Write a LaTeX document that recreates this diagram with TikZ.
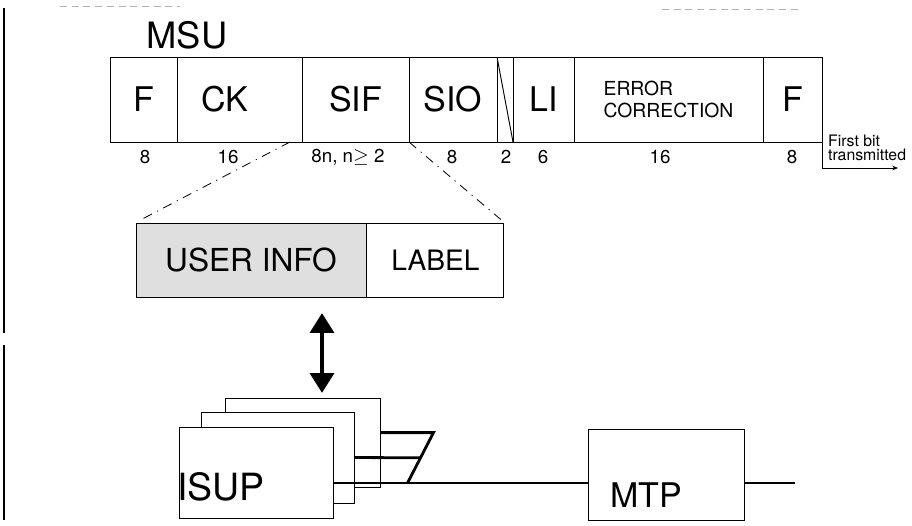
\documentclass[tikz,border=0pt]{standalone}
\usepackage{fontspec}
\setmainfont{TeX Gyre Heros}
\usetikzlibrary{arrows.meta,calc,positioning}
\newlength\pxl
\setlength\pxl{0.03cm}

\begin{document}
\begin{tikzpicture}[x=0.03cm, y=-0.03cm,
    field/.style={draw, line width=0.8pt, inner sep=0pt, outer sep=0pt,
        minimum height=85*\pxl, font=\fontsize{29}{29}\selectfont},
    numlabel/.style={font=\fontsize{16}{16}\selectfont},
    blk/.style={draw, line width=0.8pt, fill=white, inner sep=0pt},
    wire/.style={line width=2.4pt},
    zoomline/.style={line width=0.7pt, dash pattern=on 8pt off 5pt on 1pt off 5pt},
    dblarrow/.style={line width=4.2pt,
        {Triangle[width=20pt,length=17pt]}-{Triangle[width=20pt,length=17pt]}}]
    \useasboundingbox (0,0) rectangle (912,525);

    % scan marks
    \draw[line width=1.2pt] (4,8) -- (4,333) (4,345) -- (4,520);
    \draw[gray!60, line width=0.6pt, dash pattern=on 6pt off 4pt] (60,6) -- (180,6) (662,9) -- (800,9);

    % MSU frame
    \node[font=\fontsize{31}{31}\selectfont] (msu) at (187,35) {MSU};
    \node[field, minimum width=67*\pxl] (f1) at (143.5,99.5) {F};
    \node[field, minimum width=125*\pxl, right=0pt of f1] (ck) {CK\kern 30\pxl};
    \node[field, minimum width=107*\pxl, right=0pt of ck] (sif) {SIF};
    \node[field, minimum width=88*\pxl, right=0pt of sif] (sio) {SIO};
    \node[field, minimum width=16*\pxl, right=0pt of sio] (spare) {};
    \node[field, minimum width=61*\pxl, right=0pt of spare] (li) {LI};
    \node[field, minimum width=189*\pxl, right=0pt of li, align=left,
        font=\fontsize{16.5}{19.5}\selectfont] (ec) {ERROR\\CORRECTION};
    \node[field, minimum width=59*\pxl, right=0pt of ec] (f8) {F};
    \draw[line width=0.8pt] (spare.north west) -- (spare.south east);

    % field lengths
    \foreach \xx/\nn [count=\i] in {145/8, 228/16, 348/{8n, n$\geq$\ 2}, 452/8, 506/2, 543/6, 660/16, 792/8}
        \node[numlabel] (n\i) at (\xx,157) {\nn};

    % bit order
    \coordinate (txend) at (898,168);
    \draw[line width=0.7pt, -{Stealth[length=5pt,width=4pt]}] (f8.south east) |- (txend);
    \node[font=\fontsize{13.5}{12.5}\selectfont, align=left, anchor=west] (fb) at (824,148) {First bit\\transmitted};

    % SIF contents
    \node[blk, fill=gray!25, minimum width=230*\pxl, minimum height=74*\pxl,
        font=\fontsize{27}{27}\selectfont] (user) at (251,260) {USER INFO};
    \node[blk, minimum width=137*\pxl, minimum height=74*\pxl, right=0pt of user,
        font=\fontsize{24}{24}\selectfont] (lbl) {LABEL};
    \draw[zoomline, shorten >=3pt] ($(sif.south west)+(-12,0)$) -- (user.north west);
    \draw[zoomline, shorten >=4pt] (sif.south east) -- (lbl.north east);

    \coordinate (atop) at (322,313);
    \coordinate (abot) at (322,393);
    \draw[dblarrow] (atop) -- (abot);

    % ISUP and MTP
    \node[blk, minimum width=155*\pxl, minimum height=89*\pxl] (isupA) at (302.5,442.5) {};
    \node[blk, minimum width=153*\pxl, minimum height=91*\pxl] (isupB) at (277.5,457.5) {};
    \node[blk, minimum width=154*\pxl, minimum height=91*\pxl] (isupC) at (256,472.5) {};
    \node[font=\fontsize{32}{32}\selectfont] (isuplbl) at (221,487) {ISUP};
    \node[blk, minimum width=156*\pxl, minimum height=91*\pxl] (mtp) at (666,474.5) {};
    \node[font=\fontsize{29}{29}\selectfont] (mtplbl) at (646,495) {MTP};

    \coordinate (bus) at ($(isupC.north east)!0.615!(isupC.south east)$);
    \coordinate (busA) at ($(isupA.north east)!0.39!(isupA.south east)$);
    \coordinate (kink) at ($(busA)+(53,0)$);
    \coordinate (foot) at ($(bus)+(74,0)$);
    \coordinate (out) at ($(mtp.east |- bus)+(51,0)$);
    \draw[wire] (busA) -- (kink) -- (foot);
    \draw[wire] (isupB.east) -- ($(kink)!0.5!(foot)$);
    \draw[wire] (bus) -- (bus -| mtp.west);
    \draw[wire] (mtp.east |- bus) -- (out);
\end{tikzpicture}
\end{document}
